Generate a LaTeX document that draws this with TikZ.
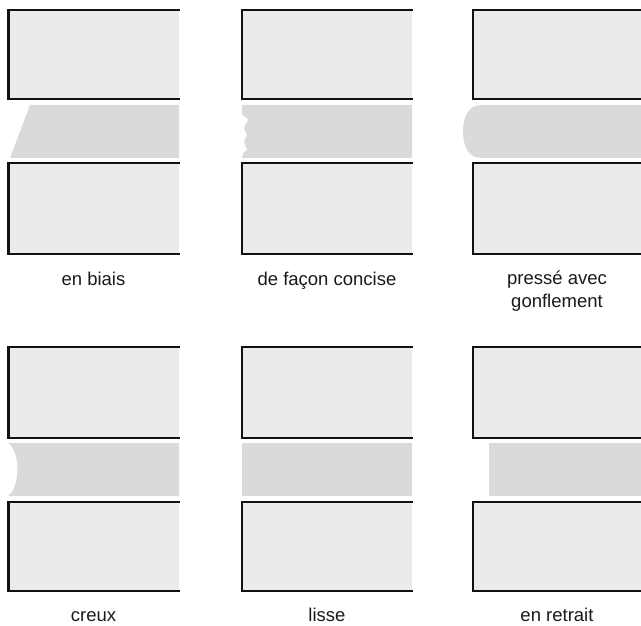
\documentclass[tikz,border=0pt]{standalone}
\usepackage{fontspec}
\setmainfont{Liberation Sans}
\definecolor{boxfill}{HTML}{EBEBEB}
\definecolor{bandfill}{HTML}{D9DBDA}
\definecolor{edge}{HTML}{111111}
\definecolor{txt}{HTML}{1A1A1A}
\tikzset{
  boxframe/.style={fill=boxfill},
  boxedge/.style={draw=edge,line width=2.4pt,line join=miter,line cap=rect},
  band/.style={fill=bandfill},
  lbl/.style={font=\fontsize{18.5}{23}\selectfont,text=txt,align=center,anchor=base,inner sep=0pt},
}
% half-open box: top, left, bottom edges drawn
\newcommand{\openbox}[4]{% x0 y0 x1 y1
  \fill[boxframe] (#1,#2) rectangle (#3,#4);
  \draw[boxedge] (#3,#2) -- (#1,#2) -- (#1,#4) -- (#3,#4);
}
\begin{document}
\begin{tikzpicture}[x=1pt,y=-1pt]
\useasboundingbox (0,0) rectangle (641,626);
\fill[white] (0,0) rectangle (641,626);
% ---------- row 1 ----------
\openbox{8.5}{10}{179}{99}
\openbox{8.5}{163}{179}{254}
\fill[band] (30,105) -- (179,105) -- (179,158) -- (10,158) -- cycle;
\openbox{242}{10}{412}{99}
\openbox{242}{163}{412}{254}
\fill[band] (412,105) -- (242,105) -- (242,114)
  .. controls (244,117) and (248,118) .. (248,120)
  .. controls (247,123) and (244,125) .. (244,128)
  .. controls (244,131) and (247,133) .. (247,135)
  .. controls (247,138) and (244,139) .. (244,142)
  .. controls (244,145) and (247,147) .. (247,149)
  .. controls (247,151) and (243,152) .. (243,154)
  -- (242,158) -- (412,158) -- cycle;
\openbox{473}{10}{643}{99}
\openbox{473}{163}{643}{254}
\fill[band] (643,105) -- (481,105)
  .. controls (468,105) and (463,118) .. (463,131.5)
  .. controls (463,145) and (468,158) .. (481,158) -- (643,158) -- cycle;
\node[lbl] (l1) at (93.5,285) {en biais};
\node[lbl] (l2) at (327,285) {de façon concise};
\node[lbl] (l3) at (557,307) {pressé avec\\gonflement};
% ---------- row 2 ----------
\openbox{8.5}{347}{179}{438}
\openbox{8.5}{502}{179}{591}
\fill[band] (8,443) -- (179,443) -- (179,496) -- (8,496)
  .. controls (20,488) and (21,451) .. (8,443) -- cycle;
\openbox{242}{347}{412}{438}
\openbox{242}{502}{412}{591}
\fill[band] (242,443) rectangle (412,496);
\openbox{473}{347}{643}{438}
\openbox{473}{502}{643}{591}
\fill[band] (489,443) rectangle (643,496);
\node[lbl] (l4) at (93.5,621) {creux};
\node[lbl] (l5) at (327,621) {lisse};
\node[lbl] (l6) at (557,621) {en retrait};
\end{tikzpicture}
\end{document}
